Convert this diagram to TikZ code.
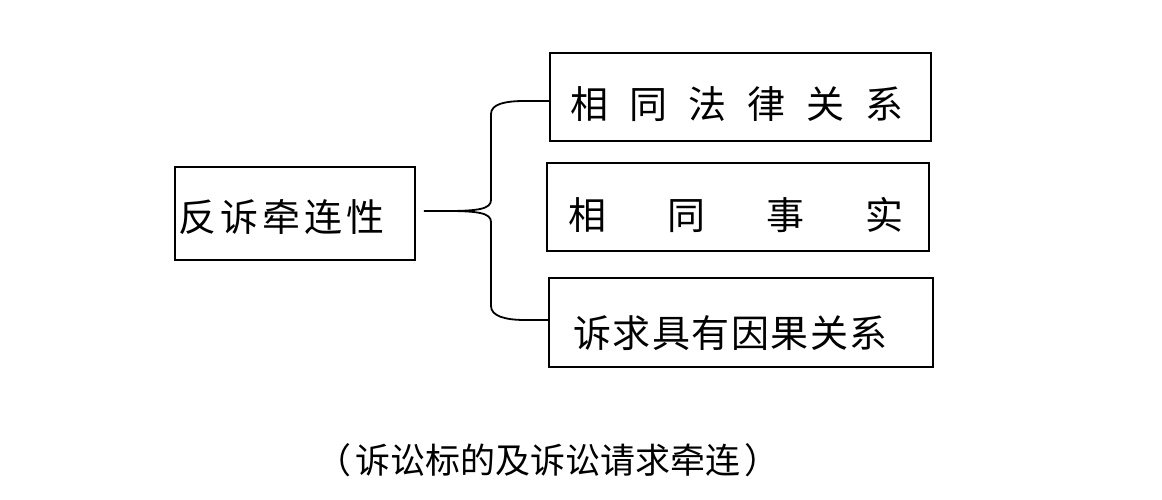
\documentclass[tikz,border=0pt]{standalone}
\usepackage{fontspec}
\setmainfont{Noto Sans CJK SC}
\newfontfamily\cjk{Noto Sans CJK SC}
\usetikzlibrary{calc}
\begin{document}
\begin{tikzpicture}[x=1pt,y=-1pt,
  boxst/.style={draw,line width=1.8pt,inner sep=0pt},
  txtst/.style={inner sep=0pt,font=\cjk\fontsize{38}{40}\selectfont},
  capst/.style={inner sep=0pt,font=\cjk\fontsize{35}{37}\selectfont},
  linkst/.style={line width=1.8pt}]
\useasboundingbox (0,0) rectangle (1162,500);
% boxes
\node[boxst,minimum width=240pt,minimum height=93pt] (L) at (295,213.5) {};
\node[boxst,minimum width=381pt,minimum height=88pt] (B1) at (740.5,97) {};
\node[boxst,minimum width=382pt,minimum height=88pt] (B2) at (738,207) {};
\node[boxst,minimum width=384pt,minimum height=89pt] (B3) at (741,322.5) {};
% texts
\node[txtst,anchor=west] (tL) at (178,217) {反\hspace{4pt}诉\hspace{4pt}牵\hspace{4pt}连\hspace{4pt}性};
\node[txtst] (t1) at (737,104) {相\hspace{21pt}同\hspace{21pt}法\hspace{21pt}律\hspace{21pt}关\hspace{21pt}系};
\node[txtst] (t2) at (736,215) {相\hspace{61pt}同\hspace{61pt}事\hspace{61pt}实};
\node[txtst,anchor=west] (t3) at (573,333) {诉\hspace{1.5pt}求\hspace{1.5pt}具\hspace{1.5pt}有\hspace{1.5pt}因\hspace{1.5pt}果\hspace{1.5pt}关\hspace{1.5pt}系};
\node[capst] (cap) at (548,460) {（\hspace{4pt}诉讼标的及诉讼请求牵连\hspace{4pt}）};
% brace
\coordinate (bs) at ($(L.east)+(8,-2.5)$);
\draw[linkst] (bs) -- (447,211) .. controls (478,211) and (491,209) .. (491,200) -- (491,114)
  .. controls (491,104) and (505,101) .. (525,101) -- ($(B1.west)+(0,4)$);
\draw[linkst] (447,211) .. controls (478,211) and (491,213) .. (491,222) -- (491,306)
  .. controls (491,316) and (505,320) .. (525,320) -- ($(B3.west)+(0,-2.5)$);
\end{tikzpicture}
\end{document}
